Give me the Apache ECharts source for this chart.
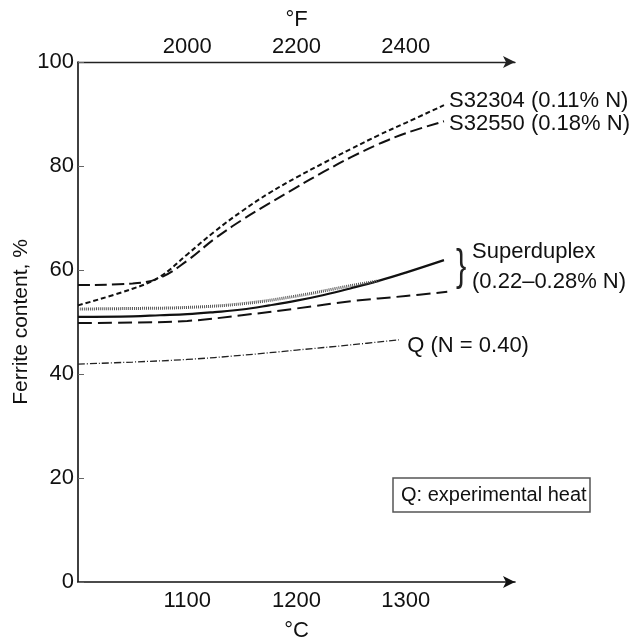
<!DOCTYPE html>
<html>
<head>
<meta charset="UTF-8">
<title>Ferrite content vs temperature</title>
<script src="https://cdn.jsdelivr.net/npm/echarts@6/dist/echarts.min.js"></script>
<style>
    body{ margin:0; background:#fff; }
    #main{ width:640px; height:643px; }
</style>
</head>
<body>
<div id="main"></div>
<script type="text/javascript">
    // temperatures in °C
    var tempMain = [1000, 1050, 1075, 1100, 1125, 1150, 1175, 1200, 1225, 1250, 1275, 1300, 1335];
    var s32304 = [53.2, 56.4, 58.7, 63.0, 67.4, 71.3, 74.8, 77.8, 80.6, 83.3, 85.9, 88.3, 91.7];
    var s32550 = [57.1, 57.4, 58.5, 61.8, 66.0, 69.6, 72.8, 75.9, 78.9, 81.7, 84.2, 86.3, 88.6];
    var superSolid = [51.0, 51.1, 51.3, 51.5, 51.9, 52.4, 53.2, 54.1, 55.2, 56.5, 57.9, 59.5, 61.9];

    var tempDot = [1000, 1050, 1100, 1150, 1200, 1250, 1275];
    var superDot = [52.5, 52.6, 52.8, 53.5, 55.0, 57.0, 57.9];

    var tempLow = [1000, 1050, 1100, 1150, 1200, 1250, 1300, 1338];
    var superLow = [49.8, 49.9, 50.2, 51.3, 52.6, 54.0, 55.0, 55.8];

    var tempQ = [1000, 1050, 1100, 1150, 1200, 1250, 1295];
    var qHeat = [41.9, 42.3, 42.8, 43.6, 44.6, 45.6, 46.6];

    var fTicks = [2000, 2200, 2400];
    var cTicks = [1100, 1200, 1300];

    function pairs(xs, ys){
        return xs.map(function(x, i){ return [x, ys[i]]; });
    }

    var font = 'Liberation Sans';
    var ink = '#111';

    var myChart = echarts.init(document.getElementById('main'));

    function line(name, xs, ys, width, dash, color, label){
        var s = {
            name: name,
            type: 'line',
            data: pairs(xs, ys),
            smooth: 0.4,
            symbol: 'none',
            xAxisIndex: 0,
            lineStyle: { color: color, width: width, type: dash },
            z: 3
        };
        if(label){
            s.endLabel = {
                show: true,
                formatter: label.text,
                color: ink,
                fontFamily: font,
                fontSize: 22,
                distance: 5,
                offset: label.offset || [0, 0]
            };
        }
        return s;
    }

    var option = {
        backgroundColor: '#fff',
        animation: false,
        title: {
            text: 'Q: experimental heat',
            left: 393,
            top: 478,
            padding: [7, 4, 7, 8],
            borderColor: '#555',
            borderWidth: 1.5,
            textStyle: { fontFamily: font, fontSize: 20, fontWeight: 'normal', color: ink }
        },
        grid: { left: 78, right: 125, top: 62, bottom: 61, containLabel: false, outerBoundsMode: 'none' },
        xAxis: [{
            type: 'value',
            position: 'bottom',
            min: 1000, max: 1400, interval: 100,
            name: '°C',
            nameLocation: 'middle',
            nameGap: 38,
            nameTextStyle: { fontFamily: font, fontSize: 22, color: ink },
            axisLine: { show: true, lineStyle: { color: ink, width: 1.6 }, symbol: ['none', 'arrow'], symbolSize: [9, 12] },
            axisTick: { show: false },
            splitLine: { show: false },
            axisLabel: {
                fontFamily: font, fontSize: 22, color: ink, margin: 8,
                formatter: function(v){ return cTicks.indexOf(v) >= 0 ? String(v) : ''; }
            }
        }, {
            type: 'value',
            position: 'top',
            min: 1800, max: 2600, interval: 200,
            name: '°F',
            nameLocation: 'middle',
            nameGap: 31,
            nameTextStyle: { fontFamily: font, fontSize: 22, color: ink },
            axisLine: { show: true, lineStyle: { color: '#222', width: 1.4 }, symbol: ['none', 'arrow'], symbolSize: [9, 12] },
            axisTick: { show: false },
            splitLine: { show: false },
            axisLabel: {
                fontFamily: font, fontSize: 22, color: ink, margin: 4,
                formatter: function(v){ return fTicks.indexOf(v) >= 0 ? String(v) : ''; }
            }
        }],
        yAxis: {
            type: 'value',
            min: 0, max: 100, interval: 20,
            name: 'Ferrite content, %',
            nameLocation: 'middle',
            nameGap: 46,
            nameMoveOverlap: false,
            nameTextStyle: { fontFamily: font, fontSize: 21, color: ink },
            axisLine: { show: true, lineStyle: { color: ink, width: 1.6 } },
            axisTick: { show: true, inside: true, length: 6, lineStyle: { color: '#666', width: 1 } },
            splitLine: { show: false },
            axisLabel: { fontFamily: font, fontSize: 22, color: ink, margin: 4 }
        },
        graphic: [{
            type: 'text',
            left: 456,
            top: 246,
            scaleX: 0.7,
            style: { text: '}', font: '44px "Liberation Sans"', fill: '#222' }
        }, {
            type: 'text',
            left: 472,
            top: 237,
            style: { text: 'Superduplex\n(0.22–0.28% N)', font: '22px "Liberation Sans"', fill: ink, lineHeight: 30 }
        }],
        series: [
            line('S32304 (0.11% N)', tempMain, s32304, 2, [5, 3], ink, { text: 'S32304 (0.11% N)', offset: [0, -4] }),
            line('S32550 (0.18% N)', tempMain, s32550, 2, [12, 5], ink, { text: 'S32550 (0.18% N)', offset: [0, 3] }),
            line('Superduplex solid', tempMain, superSolid, 2.2, 'solid', ink),
            line('Superduplex dotted', tempDot, superDot, 3, [1, 1], '#555'),
            line('Superduplex dashed', tempLow, superLow, 2, [14, 6], ink),
            line('Q (N = 0.40)', tempQ, qHeat, 1.3, [7, 2, 1, 2], '#222', { text: 'Q (N = 0.40)', offset: [2, 6] })
        ]
    };
    myChart.setOption(option);
</script>
</body>
</html>
